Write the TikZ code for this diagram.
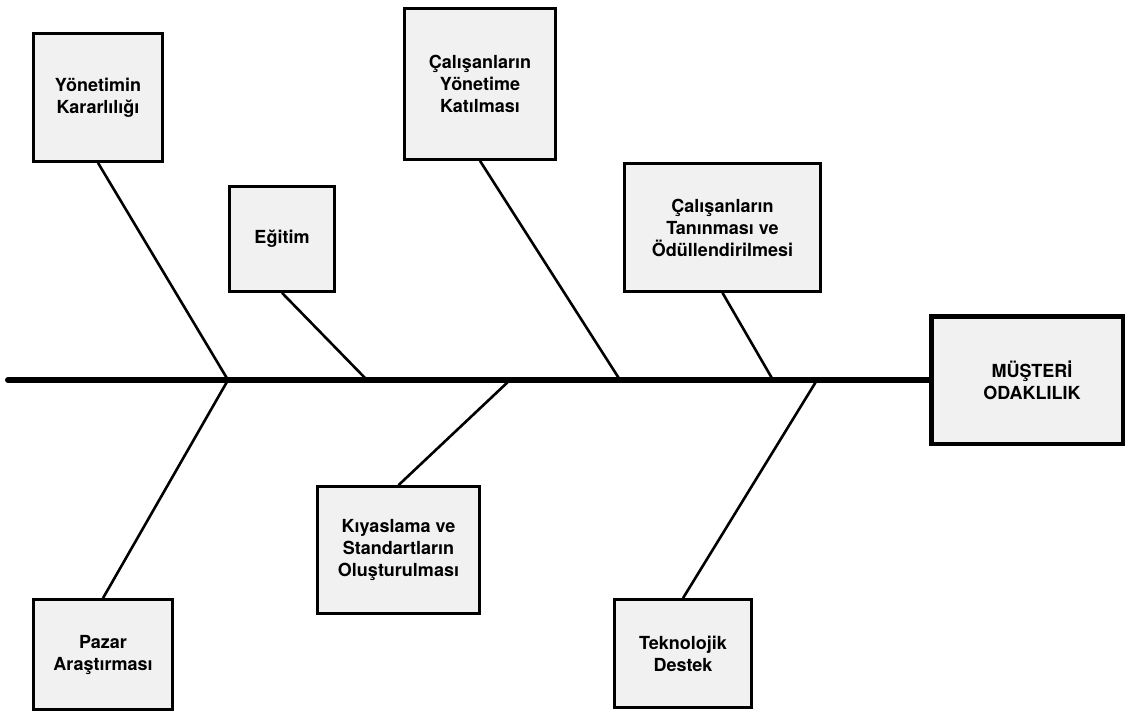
\documentclass[tikz,border=0pt]{standalone}
\usepackage{fontspec}
\setmainfont{TeX Gyre Heros}
\definecolor{boxgray}{RGB}{241,241,241}
\begin{document}
\begin{tikzpicture}[x=1pt,y=-1pt,
  cause/.style={draw=black, line width=2.7pt, fill=boxgray, inner sep=0pt,
                align=center, font=\bfseries\fontsize{18}{22}\selectfont},
  effect/.style={cause, line width=4.5pt},
  bone/.style={line width=2.6pt},
  backbone/.style={line width=6pt, line cap=round}]
\useasboundingbox (0,0) rectangle (1127,713);

% cause boxes
\node[cause, minimum width=129pt, minimum height=128pt] (mgmt)  at (98,97.5)    {Yönetimin\\Kararlılığı};
\node[cause, minimum width=105pt, minimum height=105pt] (edu)   at (282,239)    {Eğitim};
\node[cause, minimum width=151pt, minimum height=151pt] (part)  at (480,84)     {Çalışanların\\Yönetime\\Katılması};
\node[cause, minimum width=196pt, minimum height=128pt] (award) at (722.5,227.5){Çalışanların\\Tanınması ve\\Ödüllendirilmesi};
\node[cause, minimum width=162pt, minimum height=127pt] (bench) at (398.5,550)  {Kıyaslama ve\\Standartların\\Oluşturulması};
\node[cause, minimum width=139pt, minimum height=110pt] (market) at (103,654.5) {Pazar\\Araştırması};
\node[cause, minimum width=137pt, minimum height=108pt] (tech)  at (683,653.5)  {Teknolojik\\Destek};

% effect box
\node[effect, minimum width=191.5pt, minimum height=127.5pt] (goal) at (1027,380) {\hspace*{10pt}MÜŞTERİ\\\hspace*{10pt}ODAKLILIK};

% points on the backbone
\coordinate (tail) at (8,380);
\coordinate (j1) at (228,380);
\coordinate (j2) at (367,380);
\coordinate (j3) at (510,380);
\coordinate (j4) at (620,380);
\coordinate (j5) at (773,380);
\coordinate (j6) at (817,380);

% backbone
\draw[backbone] (tail) -- (goal.west);

% bones
\draw[bone] (mgmt.south)   -- (j1);
\draw[bone] (market.north) -- (j1);
\draw[bone] (edu.south)    -- (j2);
\draw[bone] (bench.north)  -- (j3);
\draw[bone] (part.south)   -- (j4);
\draw[bone] (award.south)  -- (j5);
\draw[bone] (tech.north)   -- (j6);
\end{tikzpicture}
\end{document}
